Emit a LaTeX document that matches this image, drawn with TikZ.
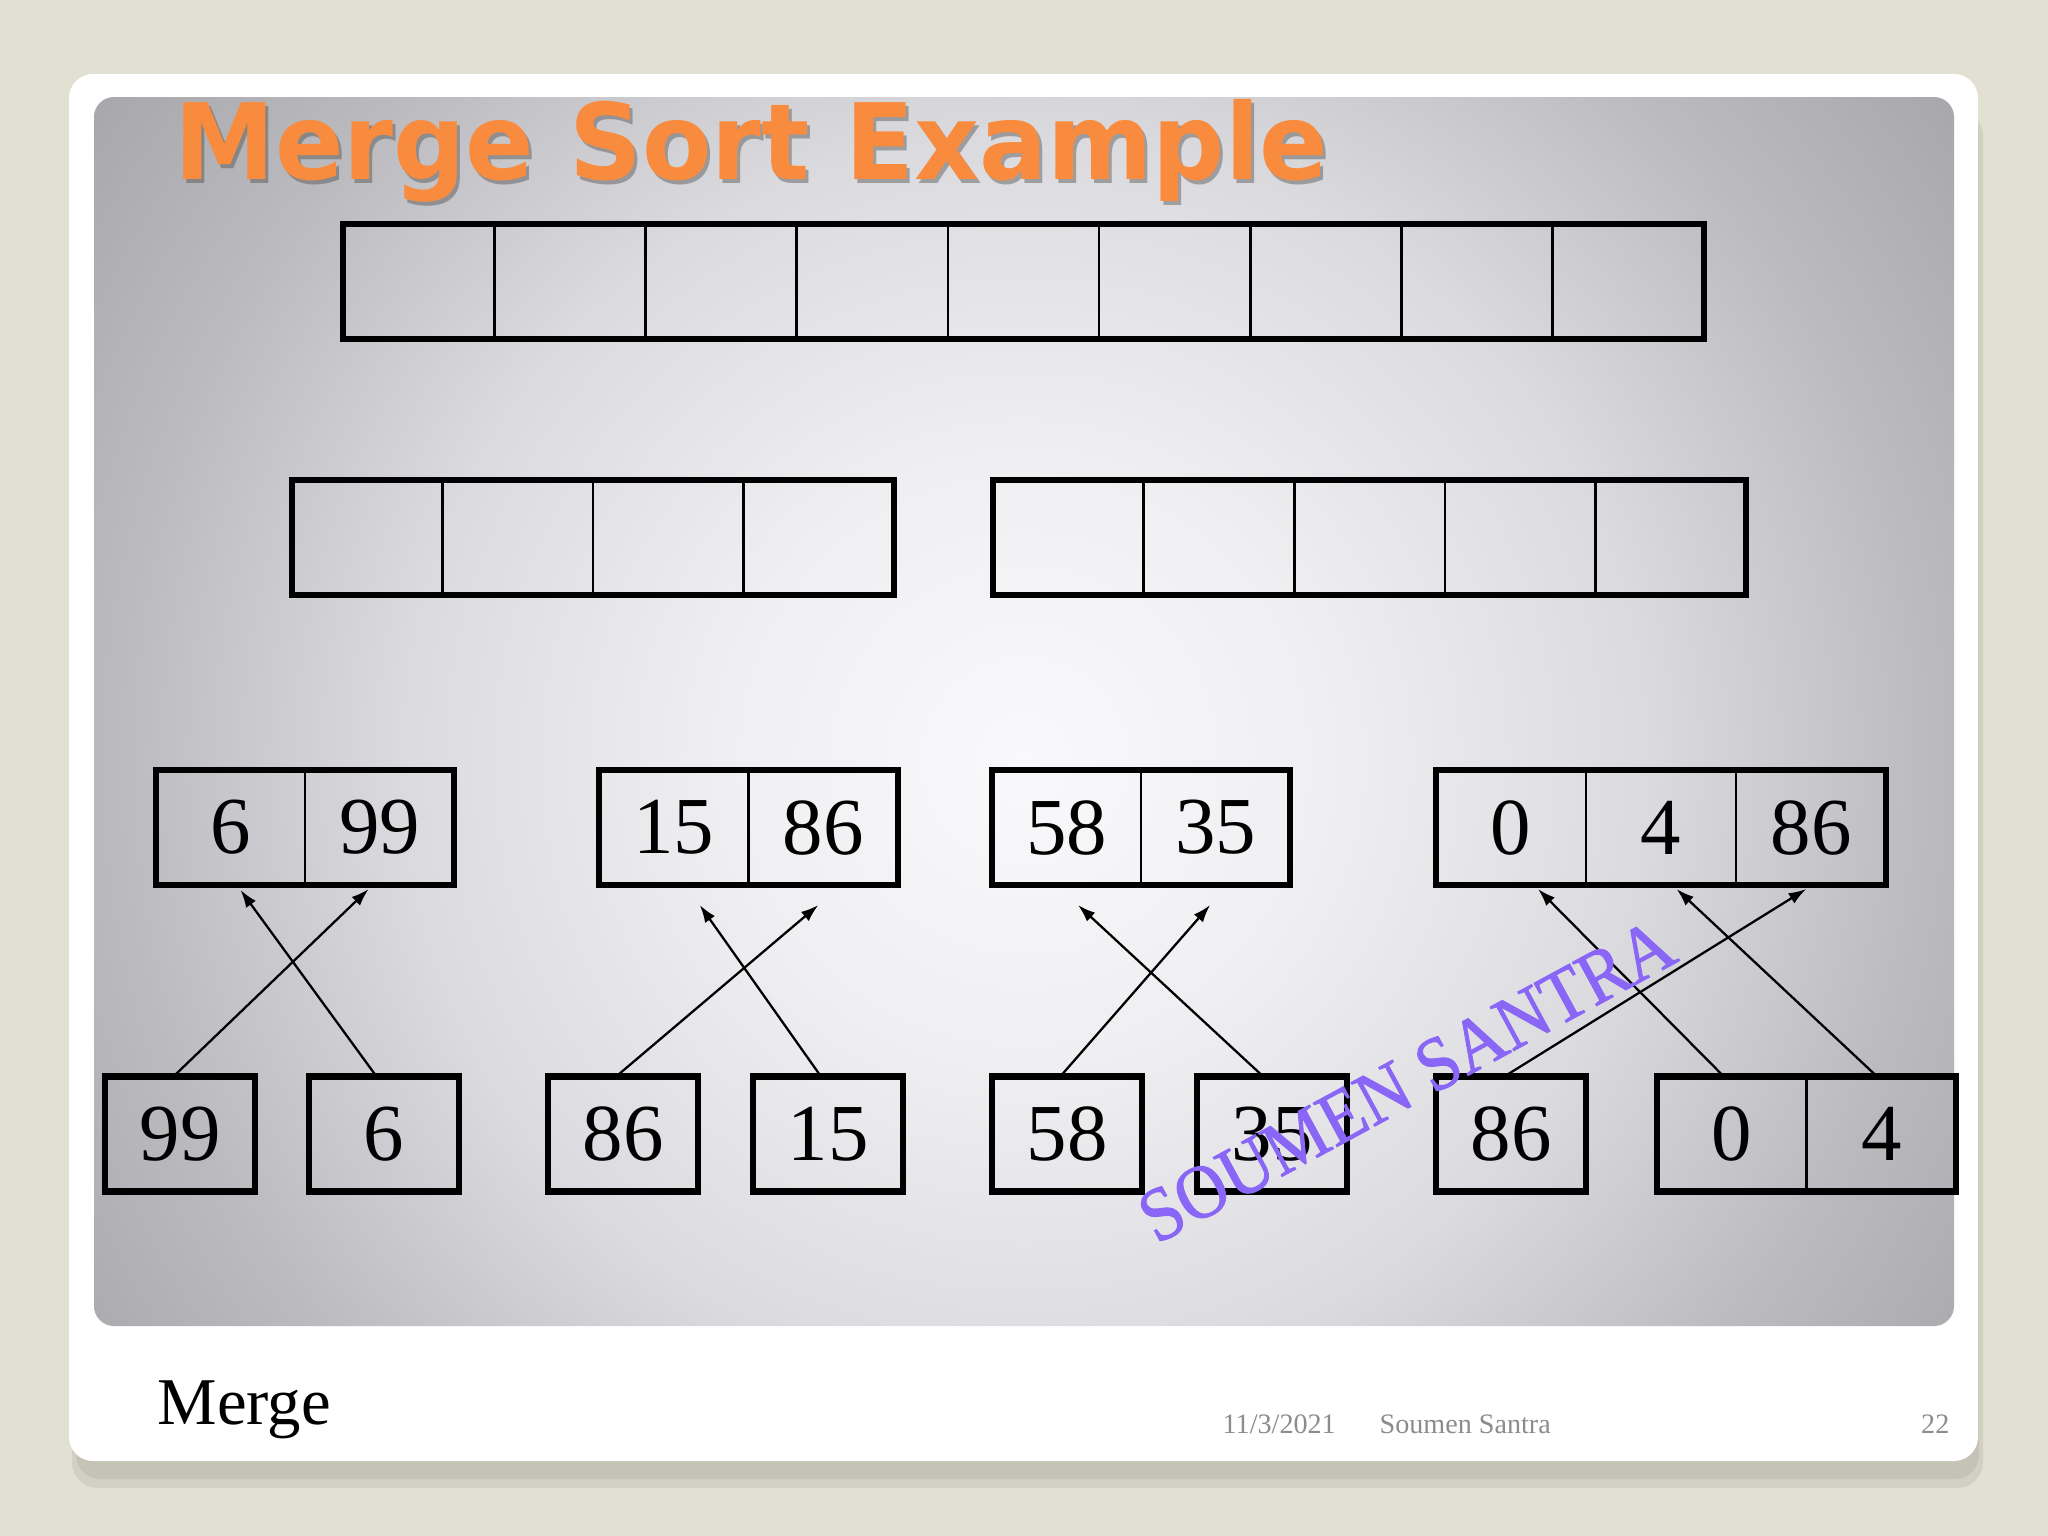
\documentclass[tikz,border=0pt]{standalone}
\usepackage{fontspec}
\setmainfont{Liberation Serif}
\newfontfamily\titlefont{DejaVu Sans}
\newfontfamily\wmfont{Liberation Serif}[FakeBold=1.3]
\usetikzlibrary{arrows.meta,calc}
\definecolor{outerbg}{RGB}{226,223,211}
\definecolor{shadowc}{RGB}{197,195,182}
\definecolor{pc0}{RGB}{249,249,251}
\definecolor{pc1}{RGB}{239,239,242}
\definecolor{pc2}{RGB}{219,219,223}
\definecolor{pc3}{RGB}{187,187,191}
\definecolor{pc4}{RGB}{167,166,171}
\definecolor{titleor}{RGB}{249,139,62}
\definecolor{wmc}{RGB}{138,102,246}
\definecolor{footg}{RGB}{140,140,140}
\pgfdeclareradialshading{panelshade}{\pgfpointorigin}{color(0bp)=(pc0); color(6.6bp)=(pc1); color(13.5bp)=(pc2); color(19.7bp)=(pc3); color(25bp)=(pc4); color(50bp)=(pc4)}
\begin{document}
\begin{tikzpicture}[x=0.01cm,y=-0.01cm,
  cell/.style={minimum width=#1, minimum height=1.15cm, inner sep=0pt, outer sep=0pt,
    draw, line width=0.7pt, font=\fontsize{23}{23}\selectfont},
  cell/.default=1.5cm,
  frame/.style={draw, line width=1.75pt},
  single/.style={cell, line width=1.75pt},
  arr/.style={line width=0.65pt, -{Latex[length=5pt,width=3.4pt]}},
  titlestyle/.style={anchor=base west, inner sep=0pt, xscale=0.958, font=\titlefont\bfseries\fontsize{30}{30}\selectfont},
  footsmall/.style={anchor=base west, inner sep=0pt, text=footg, font=\fontsize{8}{8}\selectfont},
  wm/.style={anchor=base west, inner sep=0pt, text=wmc, font=\wmfont\fontsize{20}{20}\selectfont}
]
\useasboundingbox (0,0) rectangle (2048,1536);
\fill[outerbg] (0,0) rectangle (2048,1536);
% card shadow and card
\fill[shadowc!55!outerbg, rounded corners=0.26cm] (72,110) rectangle (1983,1488);
\fill[shadowc, rounded corners=0.24cm] (76,110) rectangle (1979,1479);
\fill[white, rounded corners=0.24cm] (69,74) rectangle (1978,1461);
% gradient panel
\begin{scope}
  \clip[rounded corners=0.2cm] (94,97) rectangle (1954,1326);
  \shade[shading=panelshade] (1024,760) circle (1150);
\end{scope}
% title
\node[titlestyle, text=black!75, opacity=0.4] (titleshadow) at (177,183) {Merge Sort Example};
\node[titlestyle, text=titleor] (title) at (174,179) {Merge Sort Example};
% row 1
\foreach \i in {1,...,9}
  \node[cell=1.512cm, anchor=west] (r1c\i) at ({343+151.2*(\i-1)},281.5) {};
\draw[frame] (r1c1.north west) rectangle (r1c9.south east);
% row 2
\foreach \i in {1,...,4}
  \node[cell=1.505cm, anchor=west] (r2l\i) at ({292+150.5*(\i-1)},537.5) {};
\draw[frame] (r2l1.north west) rectangle (r2l4.south east);
\foreach \i in {1,...,5}
  \node[cell=1.506cm, anchor=west] (r2r\i) at ({993+150.6*(\i-1)},537.5) {};
\draw[frame] (r2r1.north west) rectangle (r2r5.south east);
% row 3
\node[cell=1.49cm, anchor=west] (t6) at (156,827.5) {6};
\node[cell=1.49cm, anchor=west] (t99) at (t6.east) {99};
\draw[frame] (t6.north west) rectangle (t99.south east);
\node[cell=1.495cm, anchor=west] (t15) at (599,827.5) {15};
\node[cell=1.495cm, anchor=west] (t86a) at (t15.east) {86};
\draw[frame] (t15.north west) rectangle (t86a.south east);
\node[cell=1.49cm, anchor=west] (t58) at (992,827.5) {58};
\node[cell=1.49cm, anchor=west] (t35) at (t58.east) {35};
\draw[frame] (t58.north west) rectangle (t35.south east);
\node[cell=1.5cm, anchor=west] (t0) at (1436,827.5) {0};
\node[cell=1.5cm, anchor=west] (t4) at (t0.east) {4};
\node[cell=1.5cm, anchor=west] (t86b) at (t4.east) {86};
\draw[frame] (t0.north west) rectangle (t86b.south east);
% row 4
\node[single=1.47cm, anchor=west] (b99) at (105,1134) {99};
\node[single=1.46cm, anchor=west] (b6) at (309,1134) {6};
\node[single=1.48cm, anchor=west] (b86a) at (548,1134) {86};
\node[single=1.47cm, anchor=west] (b15) at (753,1134) {15};
\node[single=1.47cm, anchor=west] (b58) at (992,1134) {58};
\node[single=1.47cm, anchor=west] (b35) at (1197,1134) {35};
\node[single=1.47cm, anchor=west] (b86b) at (1436,1134) {86};
\node[cell=1.495cm, anchor=west] (b0) at (1657,1134) {0};
\node[cell=1.495cm, anchor=west] (b4) at (b0.east) {4};
\draw[frame] (b0.north west) rectangle (b4.south east);
% arrows
\draw[arr] ($(b99.north)+(-4.5,-2)$) -- ($(t99.south)+(-11,4)$);
\draw[arr] ($(b6.north)+(-9,-2)$) -- ($(t6.south)+(10,5)$);
\draw[arr] ($(b86a.north)+(-4.5,-2)$) -- ($(t86a.south)+(-5,20)$);
\draw[arr] ($(b15.north)+(-8.5,-2)$) -- ($(t15.south)+(26,20)$);
\draw[arr] ($(b58.north)+(-5,-2)$) -- ($(t35.south)+(-5.5,20)$);
\draw[arr] ($(b35.north)+(-11,-2)$) -- ($(t58.south)+(11.5,20)$);
\draw[arr] ($(b86b.north)+(-3.5,-2)$) -- ($(t86b.south)+(-5,4)$);
\draw[arr] ($(b0.north)+(-10,-2)$) -- ($(t0.south)+(27,4)$);
\draw[arr] ($(b4.north)+(-6.5,-2)$) -- ($(t4.south)+(15.5,4)$);
% watermark
\node[wm, rotate=28.5, yscale=1.08] (wmark) at (1156,1245) {SOUMEN SANTRA};
% footer
\node[anchor=base west, inner sep=0pt, font=\fontsize{19}{19}\selectfont] (foot) at (157,1424) {Merge};
\node[footsmall] (date) at (1222,1433) {11/3/2021};
\node[footsmall] (author) at (1379,1433) {Soumen Santra};
\node[footsmall, anchor=base east] (page) at (1950,1433) {22};
\end{tikzpicture}
\end{document}
